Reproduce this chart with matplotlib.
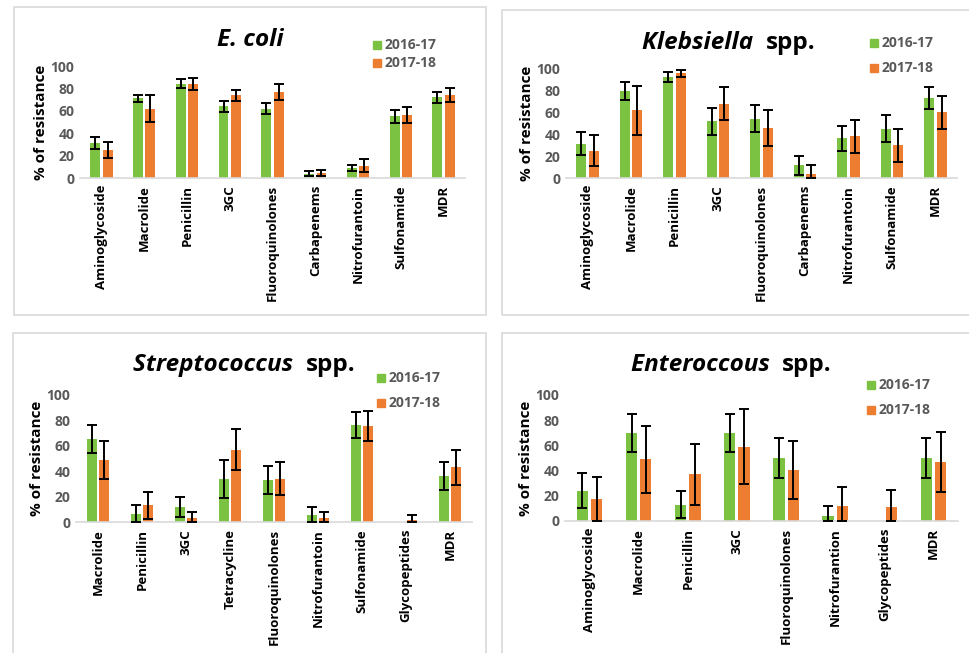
import matplotlib.pyplot as plt
from matplotlib.patches import Rectangle
import numpy as np

plt.rcParams['font.family'] = ['Open Sans', 'DejaVu Sans']

years = ['2016-17', '2017-18']

ecoli_drugs = ['Aminoglycoside', 'Macrolide', 'Penicillin', '3GC', 'Fluoroquinolones',
               'Carbapenems', 'Nitrofurantoin', 'Sulfonamide', 'MDR']
ecoli_1617 = [31, 71, 84, 64, 62, 4, 9, 55, 72]
ecoli_1617_err = [5.5, 3.5, 4, 5, 5, 2, 3, 6, 5]
ecoli_1718 = [25, 62, 84, 74, 77, 4.5, 11, 56, 74]
ecoli_1718_err = [7, 12, 5, 5, 7, 3, 6, 7, 6]

kleb_drugs = ['Aminoglycoside', 'Macrolide', 'Penicillin', '3GC', 'Fluoroquinolones',
              'Carbapenems', 'Nitrofurantoin', 'Sulfonamide', 'MDR']
kleb_1617 = [31, 79, 92, 51.5, 54, 11.5, 36, 45, 73]
kleb_1617_err = [10.5, 8, 4.5, 12, 12, 8.5, 11, 12, 10]
kleb_1718 = [25, 61.5, 95, 67.5, 45.5, 4, 38, 30, 60]
kleb_1718_err = [14, 22, 3, 15, 16, 8, 15, 15, 15]

strep_drugs = ['Macrolide', 'Penicillin', '3GC', 'Tetracycline', 'Fluoroquinolones',
               'Nitrofurantoin', 'Sulfonamide', 'Glycopeptides', 'MDR']
strep_1617 = [65, 6.5, 12, 34, 33, 5.5, 76.5, 0, 36.5]
strep_1617_err = [11, 7, 8, 15, 11, 6, 10, 0, 11]
strep_1718 = [48.5, 13, 3, 57, 34, 3, 75.5, 1.3, 43]
strep_1718_err = [15, 10.5, 5, 16, 13, 5, 12, 4, 13.5]

entero_drugs = ['Aminoglycoside', 'Macrolide', 'Penicillin', '3GC', 'Fluoroquinolones',
                'Nitrofurantion', 'Glycopeptides', 'MDR']
entero_1617 = [24, 70, 13, 70, 50, 4.2, 0, 50]
entero_1617_err = [14, 15, 11, 15, 16, 8, 0, 16]
entero_1718 = [17.5, 49, 37, 59, 40.5, 12, 11, 47]
entero_1718_err = [17.5, 26.5, 24, 30, 23, 15, 14, 24]

GREEN = '#7cc242'
ORANGE = '#ed7d31'
GRAY = '#595959'

W, H = 969, 653
fig = plt.figure(figsize=(W / 100, H / 100), dpi=100)


def px_axes(x0, x1, y_top, y_bottom):
    return fig.add_axes([x0 / W, 1 - y_bottom / H, (x1 - x0) / W, (y_bottom - y_top) / H])


def frame(x0, y0, x1, y1):
    fig.patches.append(Rectangle((x0 / W, 1 - y1 / H), (x1 - x0) / W, (y1 - y0) / H,
                                 transform=fig.transFigure, fill=False,
                                 edgecolor='#d9d9d9', linewidth=1.2))


def panel(ax, drugs, v1, e1, v2, e2, legend_xy, legend_gap):
    x = np.arange(len(drugs))
    w = 0.23
    off = 0.145
    ax.bar(x - off, v1, w, color=GREEN, zorder=2)
    ax.bar(x + off, v2, w, color=ORANGE, zorder=2)
    lo1 = np.minimum(v1, e1)
    lo2 = np.minimum(v2, e2)
    for xs, v, lo, hi in [(x - off, v1, lo1, e1), (x + off, v2, lo2, e2)]:
        keep = np.array(hi) > 0
        ax.errorbar(xs[keep], np.array(v)[keep],
                    yerr=[np.array(lo)[keep], np.array(hi)[keep]],
                    fmt='none', ecolor='black', elinewidth=1.4, capsize=3.5,
                    capthick=1.4, zorder=3, clip_on=False)
    ax.set_xlim(-0.5, len(drugs) - 0.5)
    ax.set_ylim(0, 100)
    ax.set_yticks([0, 20, 40, 60, 80, 100])
    ax.set_xticks(x)
    ax.set_xticklabels(drugs, rotation=90, fontsize=9.5, fontweight='bold')
    for t in ax.get_yticklabels():
        t.set_color(GRAY)
        t.set_fontweight('bold')
        t.set_fontsize(10)
    ax.tick_params(length=0, pad=4)
    ax.tick_params(axis='x', pad=5)
    for s in ['top', 'right', 'left']:
        ax.spines[s].set_visible(False)
    ax.spines['bottom'].set_color('#d9d9d9')
    ax.spines['bottom'].set_linewidth(1.2)
    ax.set_ylabel('% of resistance', fontsize=11, fontweight='bold', labelpad=2)
    ax.set_facecolor('none')
    lx, ly = legend_xy
    for i, (c, lab) in enumerate(zip([GREEN, ORANGE], years)):
        yy = ly + i * legend_gap
        fig.patches.append(Rectangle((lx / W, 1 - (yy + 4) / H), 8 / W, 8 / H,
                                     transform=fig.transFigure, color=c))
        fig.text((lx + 12) / W, 1 - yy / H, lab, color=GRAY, fontsize=10,
                 fontweight='bold', va='center', ha='left')


def title(xc, y, italic, plain=''):
    kw = dict(fontsize=17.5, fontweight='bold', va='center')
    if plain:
        fig.text(xc / W, 1 - y / H, italic + '  ', style='italic', ha='right', **kw)
        fig.text(xc / W, 1 - y / H, plain, ha='left', **kw)
    else:
        fig.text(xc / W, 1 - y / H, italic, style='italic', ha='center', **kw)


frame(14, 7, 486, 315)
frame(502, 10, 975, 315)
frame(13, 333, 486, 660)
frame(502, 333, 975, 660)

ax1 = px_axes(80, 465, 66, 178)
panel(ax1, ecoli_drugs, ecoli_1617, ecoli_1617_err, ecoli_1718, ecoli_1718_err, (373, 45), 18)
title(250, 40, 'E. coli')

ax2 = px_axes(566, 957, 68, 178)
panel(ax2, kleb_drugs, kleb_1617, kleb_1617_err, kleb_1718, kleb_1718_err, (870, 43), 25)
title(766, 43, 'Klebsiella', 'spp.')

ax3 = px_axes(76, 472, 395, 522)
panel(ax3, strep_drugs, strep_1617, strep_1617_err, strep_1718, strep_1718_err, (377, 378), 25)
title(306, 365, 'Streptococcus', 'spp.')

ax4 = px_axes(565, 958, 395, 521)
panel(ax4, entero_drugs, entero_1617, entero_1617_err, entero_1718, entero_1718_err, (867, 385), 25)
title(782, 365, 'Enteroccous', 'spp.')

fig.savefig('out.png', dpi=100, facecolor='white')
